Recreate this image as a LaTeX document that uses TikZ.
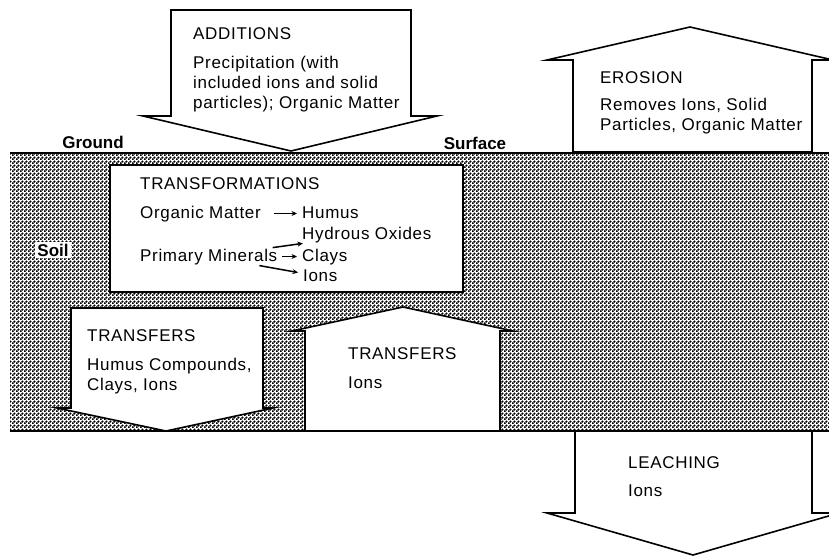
\documentclass[tikz,border=0pt]{standalone}
\usepackage{fontspec}
\setmainfont{Liberation Sans}[LetterSpace=4]
\newfontfamily\plainsans{Liberation Sans}
\usetikzlibrary{positioning,arrows.meta,patterns.meta}

\tikzdeclarepattern{
  name=soildots, type=uncolored,
  bounding box={(0pt,0pt) and (4pt,4pt)},
  tile size={(4pt,4pt)},
  code={\fill (1pt,1pt) circle (1.5pt); \fill (3pt,3pt) circle (1.5pt);}
}

\begin{document}
\begin{tikzpicture}[x=1pt,y=-1pt,
    every node/.style={font=\fontsize{17}{20}\selectfont, inner sep=0pt},
    flow/.style={draw, fill=white, line width=1.6pt, line join=miter},
    boxtext/.style={anchor=north west, align=left},
    item/.style={anchor=base west, text height=12.5pt, text depth=3.5pt},
    tag/.style={font=\plainsans\fontsize{17}{20}\selectfont\bfseries},
    conv/.style={-{Stealth[length=5.5pt,width=5pt]}, line width=1.5pt, shorten >=5pt}]
    \useasboundingbox (0,0) rectangle (829,556);

    % soil layer
    \fill[pattern=soildots, pattern color=black] (10,153) rectangle (829,431);

    % big arrows
    \draw[flow] (171,10) -- (411,10) -- (411,116) -- (437,116) -- (291,151)
      -- (143,116) -- (171,116) -- cycle;
    \draw[flow] (573,152) -- (573,60) -- (547,60) -- (690,27) -- (833,60)
      -- (812,60) -- (812,152) -- cycle;
    \draw[flow] (71,308) -- (263,308) -- (263,408) -- (273,408) -- (166,431)
      -- (57,408) -- (71,408) -- cycle;
    \draw[flow] (305,431) -- (305,331) -- (292,331) -- (403,307) -- (513,331)
      -- (500,331) -- (500,431) -- cycle;
    \draw[flow] (575,431) -- (575,513) -- (547,513) -- (693,555) -- (839,513)
      -- (812,513) -- (812,431) -- cycle;
    \draw[flow, line width=2pt] (110,165) rectangle (463,292);

    \draw[line width=2.5pt] (10,153) -- (829,153);
    \draw[line width=2.5pt] (10,431) -- (829,431);

    \node (additions) [boxtext] at (193,27) {ADDITIONS\\[9pt]Precipitation (with\\included ions and solid\\particles); Organic Matter};
    \node (erosion) [boxtext] at (600,71) {EROSION\\[7pt]Removes Ions, Solid\\Particles, Organic Matter};
    \node (transdown) [boxtext] at (87,329) {TRANSFERS\\[9pt]Humus Compounds,\\Clays, Ions};
    \node (transup) [boxtext] at (348,347) {TRANSFERS\\[9pt]Ions};
    \node (leaching) [boxtext] at (628,456) {LEACHING\\[8pt]Ions};

    % transformations
    \node (transform) [boxtext] at (140,177) {TRANSFORMATIONS};
    \node (organic) [item] at (140,218) {Organic Matter};
    \node (humus) [item] at (302,218) {Humus};
    \node (hydrous) [item] at (302,239) {Hydrous Oxides};
    \node (primary) [item] at (140,261) {Primary Minerals};
    \node (clays) [item] at (302,261) {Clays};
    \node (ions) [item] at (303,281) {Ions};
    \draw[conv, shorten <=13pt] (organic) -- (humus);
    \draw[conv, shorten <=5pt] (primary) -- (hydrous);
    \draw[conv, shorten <=5pt] (primary) -- (clays);
    \draw[conv, shorten <=5pt] (primary) -- (ions);

    \node (ground) [tag] at (93,142) {Ground};
    \node (surface) [tag] at (475,143) {Surface};
    \node (soil) [tag, fill=white, inner sep=2pt] at (53,250) {Soil};
\end{tikzpicture}
\end{document}
